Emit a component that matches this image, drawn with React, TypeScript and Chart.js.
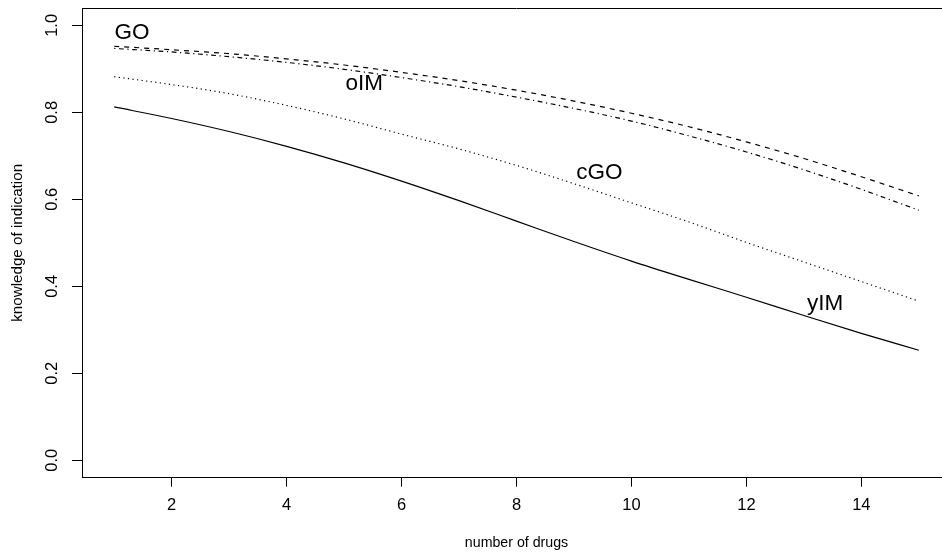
import React, { useEffect, useRef } from 'react';
import { Chart, registerables } from 'chart.js';

Chart.register(...registerables);

const drugCounts = [1, 2, 3, 4, 5, 6, 7, 8, 9, 10, 11, 12, 13, 14, 15];
const GO = [0.952, 0.944, 0.935, 0.923, 0.909, 0.892, 0.873, 0.851, 0.826, 0.798, 0.767, 0.732, 0.694, 0.652, 0.608];
const oIM = [0.947, 0.939, 0.928, 0.915, 0.899, 0.88, 0.859, 0.835, 0.809, 0.78, 0.746, 0.709, 0.668, 0.623, 0.575];
const cGO = [0.882, 0.864, 0.843, 0.816, 0.785, 0.75, 0.716, 0.678, 0.636, 0.592, 0.548, 0.501, 0.456, 0.411, 0.366];
const yIM = [0.8125, 0.786, 0.756, 0.722, 0.684, 0.642, 0.597, 0.55, 0.503, 0.458, 0.416, 0.375, 0.333, 0.292, 0.253];

const xTickValues = [2, 4, 6, 8, 10, 12, 14];
const yTickValues = [0, 0.2, 0.4, 0.6, 0.8, 1.0];

const curveLabels = ['GO', 'oIM', 'cGO', 'yIM'];
const curveLabelX = [1.31, 5.35, 9.44, 13.37];
const curveLabelY = [0.983, 0.865, 0.661, 0.359];

const FONT = '"Liberation Sans", Arial, Helvetica, sans-serif';

const frameAndLabels = {
  id: 'frameAndLabels',
  afterDraw(chart: any) {
    const { ctx, chartArea, scales } = chart;
    ctx.save();
    ctx.strokeStyle = '#000';
    ctx.lineWidth = 1;
    ctx.beginPath();
    ctx.moveTo(chartArea.left, chartArea.top + 0.5);
    ctx.lineTo(chartArea.right, chartArea.top + 0.5);
    ctx.stroke();
    ctx.fillStyle = '#000';
    ctx.font = `22.5px ${FONT}`;
    ctx.textAlign = 'center';
    ctx.textBaseline = 'middle';
    curveLabels.forEach((t, i) => {
      ctx.fillText(t, scales.x.getPixelForValue(curveLabelX[i]), scales.y.getPixelForValue(curveLabelY[i]));
    });
    ctx.restore();
  },
};

function toPoints(vals: number[]) {
  return drugCounts.map((x, i) => ({ x, y: vals[i] }));
}

export default function App() {
  const ref = useRef<HTMLCanvasElement | null>(null);

  useEffect(() => {
    if (!ref.current) return;
    const common = {
      borderColor: '#000',
      borderWidth: 1.2,
      pointRadius: 0,
      fill: false,
      cubicInterpolationMode: 'monotone' as const,
    };
    const chart = new Chart(ref.current, {
      type: 'line',
      data: {
        datasets: [
          { ...common, label: 'GO', data: toPoints(GO), borderDash: [5, 5] },
          { ...common, label: 'oIM', data: toPoints(oIM), borderDash: [1.2, 3.6, 4.8, 3.6] },
          { ...common, label: 'cGO', data: toPoints(cGO), borderDash: [1.2, 3.4] },
          { ...common, label: 'yIM', data: toPoints(yIM) },
        ],
      },
      options: {
        animation: false,
        responsive: false,
        devicePixelRatio: 1,
        layout: { padding: { top: 8, left: 0, right: 9, bottom: 0 } },
        plugins: {
          legend: { display: false },
          tooltip: { enabled: false },
        },
        scales: {
          x: {
            type: 'linear',
            min: 0.44,
            max: 15.56,
            afterBuildTicks: (scale: any) => {
              scale.ticks = xTickValues.map((v) => ({ value: v }));
            },
            afterFit: (scale: any) => {
              scale.height = 78.3;
              scale.paddingLeft = 0;
              scale.paddingRight = 0;
            },
            grid: { display: true, drawOnChartArea: false, color: '#000', tickLength: 9, tickWidth: 1 },
            border: { display: true, color: '#000', width: 1 },
            ticks: {
              color: '#000',
              font: { family: FONT, size: 16.5 },
              padding: 9,
              maxRotation: 0,
              autoSkip: false,
            },
            title: {
              display: true,
              text: 'number of drugs',
              color: '#000',
              font: { family: FONT, size: 14.2 },
              padding: { top: 0, bottom: 4.5 },
            },
          },
          y: {
            type: 'linear',
            min: -0.04,
            max: 1.04,
            afterBuildTicks: (scale: any) => {
              scale.ticks = yTickValues.map((v) => ({ value: v }));
            },
            afterFit: (scale: any) => {
              scale.width = 82;
              scale.paddingTop = 0;
              scale.paddingBottom = 0;
            },
            grid: { display: true, drawOnChartArea: false, color: '#000', tickLength: 10, tickWidth: 1 },
            border: { display: true, color: '#000', width: 1 },
            ticks: {
              color: '#000',
              font: { family: FONT, size: 16.5 },
              padding: 8,
              minRotation: 90,
              maxRotation: 90,
              crossAlign: 'center',
              autoSkip: false,
              callback: (v: any) => Number(v).toFixed(1),
            },
            title: {
              display: true,
              text: 'knowledge of indication',
              color: '#000',
              font: { family: FONT, size: 15.2 },
              padding: { top: 8.6, bottom: 0 },
            },
          },
        },
      },
      plugins: [frameAndLabels],
    });
    return () => chart.destroy();
  }, []);

  return (
    <div style={{ position: 'fixed', left: 0, top: 0, width: 942, height: 556, overflow: 'hidden', background: '#fff' }}>
      <canvas ref={ref} width={960} height={556} style={{ display: 'block' }} />
    </div>
  );
}
